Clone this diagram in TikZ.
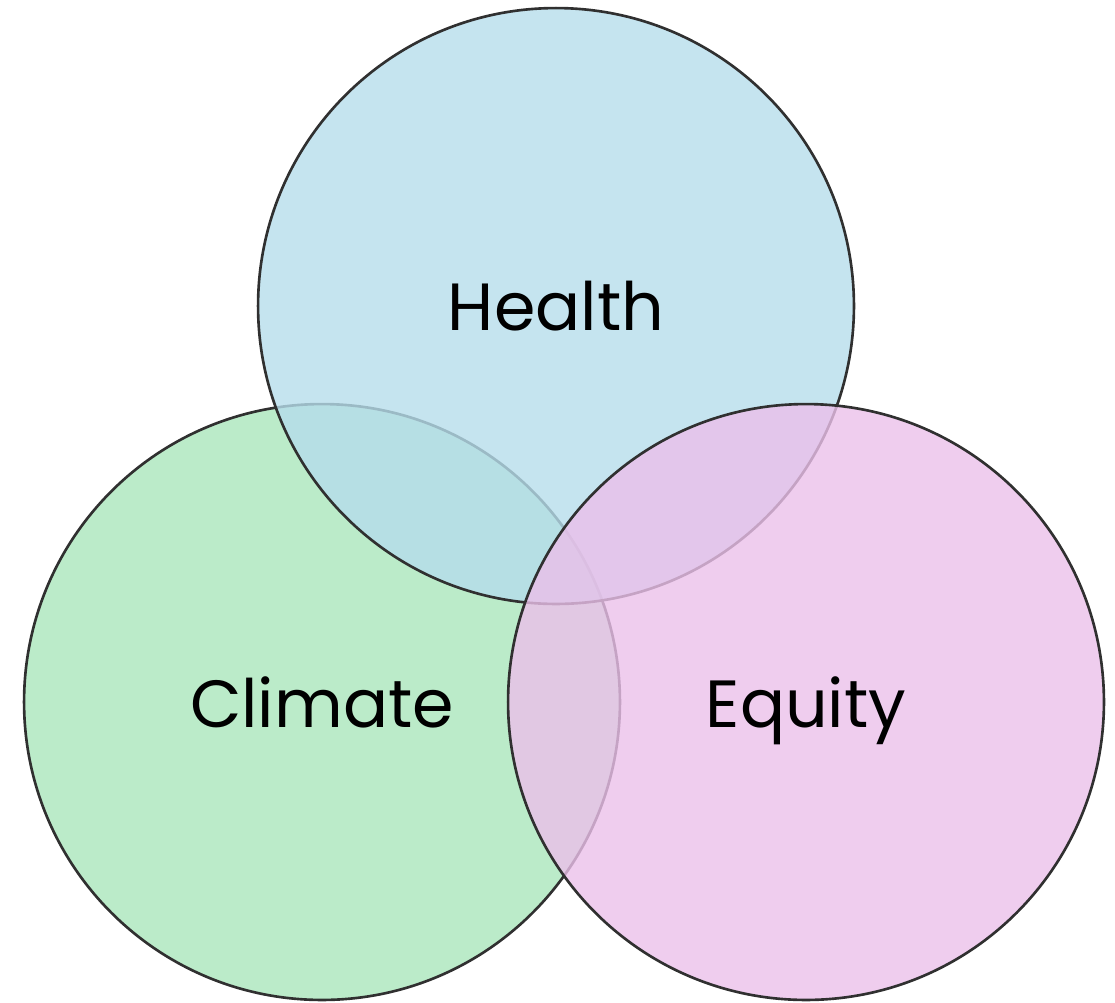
\documentclass[tikz,border=0pt]{standalone}
\usepackage{fontspec}
\setmainfont{Poppins}
\definecolor{healthc}{RGB}{182,221,235}
\definecolor{climatec}{RGB}{170,230,188}
\definecolor{equityc}{RGB}{235,192,234}
\definecolor{edgec}{RGB}{48,48,48}
\begin{document}
\begin{tikzpicture}[x=0.02cm,y=-0.02cm,
  venn/.style={circle, draw=edgec, line width=1.5pt, fill opacity=0.8, text opacity=1,
    minimum size=11.92cm, inner sep=0pt, outer sep=0pt, text depth=0pt,
    font=\fontsize{38}{46}\selectfont, text=black}]
\useasboundingbox (0,0) rectangle (1115,1002);
\node[venn, fill=climatec] (climate) at (322,702) {Climate};
\node[venn, fill=healthc] (health) at (556,306) {Health};
\node[venn, fill=equityc] (equity) at (806,702) {Equity};
\end{tikzpicture}
\end{document}
